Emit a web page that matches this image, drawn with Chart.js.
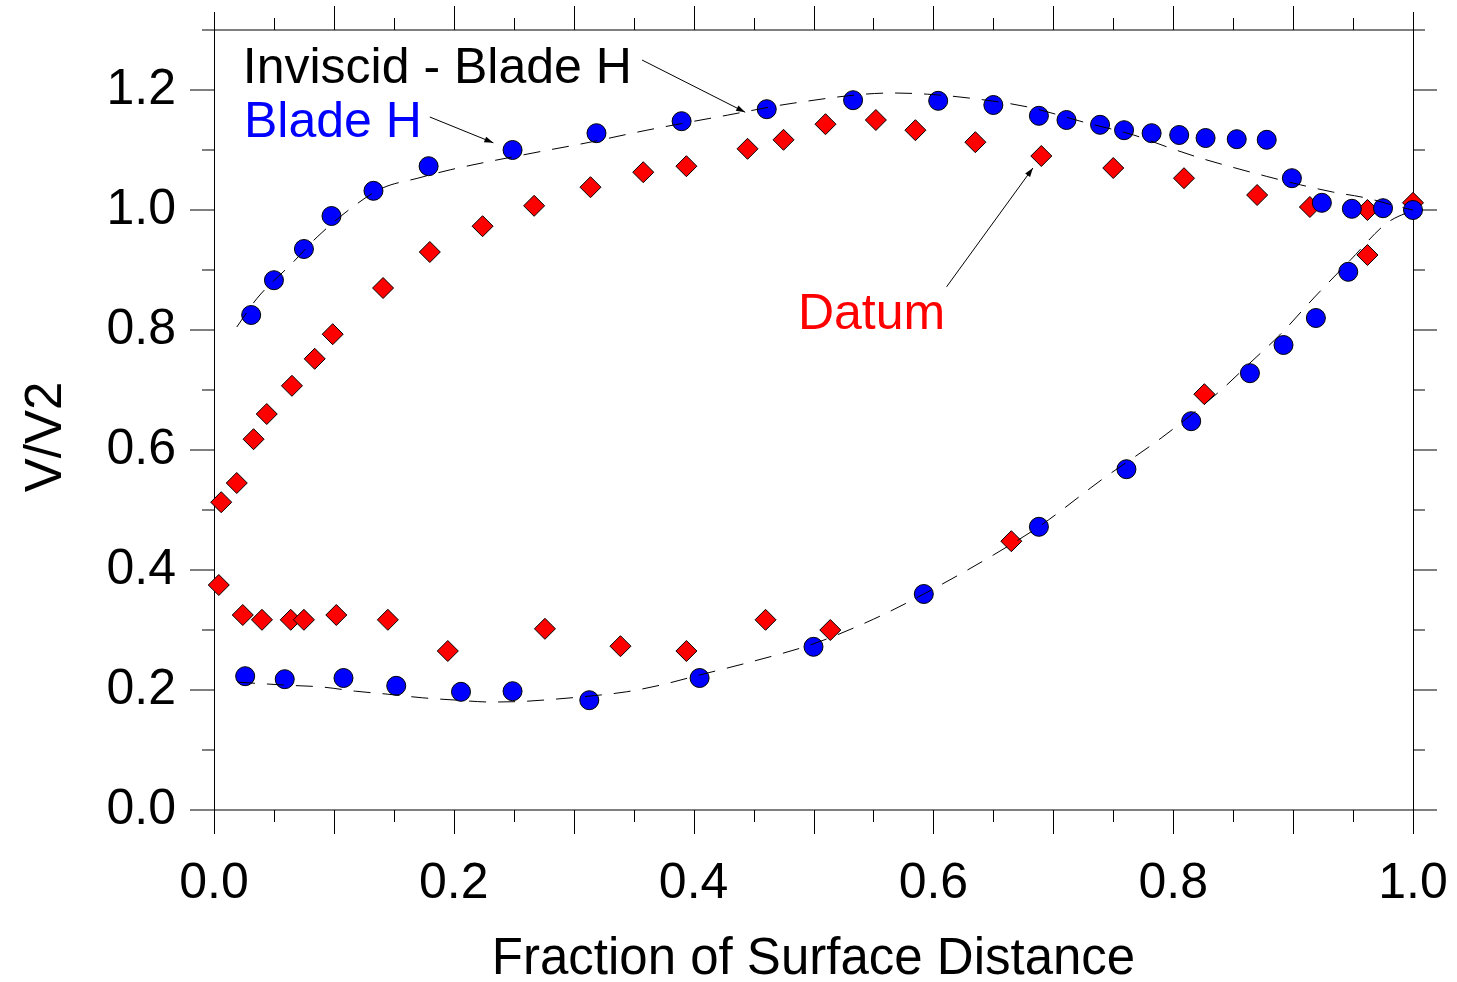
<!DOCTYPE html>
<html>
<head>
<meta charset="utf-8">
<title>V/V2 vs surface distance</title>
<script src="https://cdn.jsdelivr.net/npm/chart.js@4.4.1/dist/chart.umd.min.js"></script>
<style>
  html, body { margin: 0; padding: 0; background: #fff; }
  #wrap { width: 1457px; height: 982px; }
</style>
</head>
<body>
<div id="wrap"><canvas id="velChart" width="1457" height="982"></canvas></div>
<script>
// Blade H measurements, suction side
const bladeSsX = [0.031, 0.050, 0.075, 0.098, 0.133, 0.179, 0.249, 0.319, 0.390, 0.461, 0.533, 0.604, 0.650, 0.688,
                  0.711, 0.739, 0.759, 0.782, 0.805, 0.827, 0.853, 0.878, 0.899, 0.924, 0.949, 0.975, 1.000];
const bladeSsY = [0.825, 0.883, 0.935, 0.990, 1.032, 1.073, 1.100, 1.128, 1.148, 1.168, 1.183, 1.182, 1.175, 1.157,
                  1.150, 1.142, 1.133, 1.128, 1.125, 1.120, 1.118, 1.117, 1.053, 1.012, 1.002, 1.003, 1.000];
// Blade H measurements, pressure side
const bladePsX = [0.026, 0.059, 0.108, 0.152, 0.206, 0.249, 0.313, 0.405, 0.500, 0.592, 0.688, 0.761, 0.815, 0.864,
                  0.892, 0.919, 0.946];
const bladePsY = [0.223, 0.218, 0.220, 0.207, 0.197, 0.198, 0.183, 0.220, 0.272, 0.360, 0.472, 0.568, 0.648, 0.728,
                  0.775, 0.820, 0.897];

// Datum blade, suction side
const datumSsX = [0.006, 0.019, 0.033, 0.044, 0.065, 0.084, 0.099, 0.141, 0.180, 0.224, 0.267, 0.314, 0.358, 0.394,
                  0.445, 0.475, 0.510, 0.552, 0.585, 0.635, 0.690, 0.750, 0.809, 0.870, 0.914, 0.962, 1.000];
const datumSsY = [0.513, 0.545, 0.618, 0.660, 0.707, 0.752, 0.793, 0.870, 0.930, 0.973, 1.007, 1.038, 1.063, 1.073,
                  1.102, 1.117, 1.143, 1.150, 1.133, 1.113, 1.090, 1.070, 1.053, 1.025, 1.005, 1.000, 1.012];
// Datum blade, pressure side
const datumPsX = [0.004, 0.024, 0.040, 0.064, 0.075, 0.102, 0.145, 0.195, 0.276, 0.339, 0.394, 0.460, 0.514, 0.665,
                  0.826, 0.962];
const datumPsY = [0.375, 0.325, 0.317, 0.317, 0.317, 0.325, 0.317, 0.265, 0.302, 0.273, 0.265, 0.317, 0.300, 0.448,
                  0.693, 0.925];

// Inviscid prediction for Blade H (dashed curves)
const invSsX = [0.019, 0.036, 0.066, 0.086, 0.119, 0.141, 0.170, 0.197, 0.266, 0.311, 0.361, 0.428, 0.483, 0.566,
                0.595, 0.628, 0.678, 0.728, 0.767, 0.795, 0.822, 0.850, 0.878, 0.906, 0.933, 0.961, 0.989, 1.000];
const invSsY = [0.805, 0.853, 0.913, 0.955, 1.010, 1.037, 1.053, 1.067, 1.095, 1.112, 1.133, 1.158, 1.178, 1.195,
                1.193, 1.187, 1.172, 1.145, 1.125, 1.105, 1.087, 1.071, 1.056, 1.042, 1.030, 1.020, 1.005, 1.000];
const invPsX = [0.020, 0.061, 0.090, 0.118, 0.145, 0.174, 0.203, 0.230, 0.258, 0.286, 0.314, 0.344, 0.372, 0.405,
                0.450, 0.500, 0.550, 0.592, 0.650, 0.690, 0.740, 0.790, 0.840, 0.864, 0.889, 0.918, 0.948, 0.978, 1.000];
const invPsY = [0.213, 0.208, 0.205, 0.198, 0.193, 0.187, 0.183, 0.180, 0.181, 0.185, 0.190, 0.197, 0.208, 0.225,
                0.248, 0.277, 0.318, 0.360, 0.425, 0.475, 0.550, 0.620, 0.700, 0.745, 0.792, 0.855, 0.917, 0.978, 1.000];

// axis ticks
const xTickStep = 0.2;
const yTickStep = 0.2;
const xMax = 1.0;
const yMax = 1.3;

// callouts (text anchor = left/baseline, in data units)
const noteText  = ['Inviscid - Blade H', 'Blade H', 'Datum'];
const noteColor = ['#000000', '#0000ff', '#ff0000'];
const noteAt    = [[0.024, 1.212], [0.025, 1.122], [0.487, 0.802]];
const arrowFrom = [[0.357, 1.250], [0.180, 1.155], [0.611, 0.872]];
const arrowTo   = [[0.443, 1.163], [0.233, 1.112], [0.683, 1.070]];

const FONT = "'Liberation Sans', Arial, Helvetica, sans-serif";

const pts = (xs, ys) => xs.map((x, i) => ({ x: x, y: ys[i] }));

function hLine(ctx, x1, x2, y) { ctx.beginPath(); ctx.moveTo(x1, y); ctx.lineTo(x2, y); ctx.stroke(); }
function vLine(ctx, x, y1, y2) { ctx.beginPath(); ctx.moveTo(x + 0.5, y1); ctx.lineTo(x + 0.5, y2); ctx.stroke(); }

// box frame with ticks on all four sides
const framePlugin = {
  id: 'frame',
  beforeDatasetsDraw(chart) {
    const ctx = chart.ctx;
    const { left, right, top, bottom } = chart.chartArea;
    const xs = chart.scales.x, ys = chart.scales.y;
    ctx.save();
    ctx.strokeStyle = '#000';
    ctx.lineWidth = 1;
    hLine(ctx, left, right, top);
    hLine(ctx, left, right, bottom);
    vLine(ctx, Math.round(left), top - 18, bottom + 24);
    vLine(ctx, Math.round(right), top - 18, bottom + 24);
    for (let i = 0; i <= 20; i++) {
      const px = Math.round(xs.getPixelForValue(i * 0.05));
      const len = i % 2 === 0 ? 24 : 12;
      vLine(ctx, px, bottom, bottom + len);
      if (i > 0 && i < 20) vLine(ctx, px, top - len, top);
    }
    for (let i = 0; i <= 13; i++) {
      const py = Math.round(ys.getPixelForValue(i * 0.1));
      const len = i % 2 === 0 ? 24 : 12;
      hLine(ctx, left - len, left, py);
      hLine(ctx, right, right + len, py);
    }
    // y axis title, drawn by hand so it can sit a little low like the original
    ctx.fillStyle = '#000';
    ctx.font = '51px ' + FONT;
    ctx.textAlign = 'center';
    ctx.textBaseline = 'alphabetic';
    ctx.translate(61, (top + bottom) / 2 + 17);
    ctx.rotate(-Math.PI / 2);
    ctx.fillText('V/V2', 0, 0);
    ctx.restore();
  },
  afterDatasetsDraw(chart) {
    const ctx = chart.ctx;
    const xs = chart.scales.x, ys = chart.scales.y;
    ctx.save();
    ctx.font = '50px ' + FONT;
    ctx.textAlign = 'left';
    ctx.textBaseline = 'alphabetic';
    noteText.forEach((t, i) => {
      ctx.fillStyle = noteColor[i];
      ctx.fillText(t, xs.getPixelForValue(noteAt[i][0]), ys.getPixelForValue(noteAt[i][1]));
    });
    ctx.strokeStyle = '#000';
    ctx.fillStyle = '#000';
    ctx.lineWidth = 1;
    arrowFrom.forEach((a, i) => {
      const x1 = xs.getPixelForValue(a[0]), y1 = ys.getPixelForValue(a[1]);
      const x2 = xs.getPixelForValue(arrowTo[i][0]), y2 = ys.getPixelForValue(arrowTo[i][1]);
      ctx.beginPath(); ctx.moveTo(x1, y1); ctx.lineTo(x2, y2); ctx.stroke();
      const ang = Math.atan2(y2 - y1, x2 - x1);
      const hl = 9, hw = 3;
      ctx.beginPath();
      ctx.moveTo(x2, y2);
      ctx.lineTo(x2 - hl * Math.cos(ang) + hw * Math.sin(ang), y2 - hl * Math.sin(ang) - hw * Math.cos(ang));
      ctx.lineTo(x2 - hl * Math.cos(ang) - hw * Math.sin(ang), y2 - hl * Math.sin(ang) + hw * Math.cos(ang));
      ctx.closePath();
      ctx.fill();
    });
    ctx.restore();
  }
};

const dashed = {
  showLine: true, borderColor: '#000', borderWidth: 1, borderDash: [17, 12],
  pointRadius: 0, cubicInterpolationMode: 'monotone', clip: false
};
const circles = {
  showLine: false, pointStyle: 'circle', pointRadius: 9.5, backgroundColor: '#0000ff',
  borderColor: '#000', borderWidth: 1, clip: false
};
const diamonds = {
  showLine: false, pointStyle: 'rectRot', pointRadius: 10.5, backgroundColor: '#ff0000',
  borderColor: '#000', borderWidth: 1, clip: false
};

new Chart(document.getElementById('velChart'), {
  type: 'scatter',
  data: {
    datasets: [
      Object.assign({ label: 'Inviscid - Blade H', data: pts(invSsX, invSsY) }, dashed),
      Object.assign({ label: 'Inviscid - Blade H (PS)', data: pts(invPsX, invPsY) }, dashed),
      Object.assign({ label: 'Blade H', data: pts(bladeSsX, bladeSsY) }, circles),
      Object.assign({ label: 'Blade H (PS)', data: pts(bladePsX, bladePsY) }, circles),
      Object.assign({ label: 'Datum', data: pts(datumSsX, datumSsY) }, diamonds),
      Object.assign({ label: 'Datum (PS)', data: pts(datumPsX, datumPsY) }, diamonds)
    ]
  },
  options: {
    responsive: false,
    animation: false,
    events: [],
    layout: { padding: { top: 30, right: 44, left: 0, bottom: 0 } },
    plugins: { legend: { display: false }, tooltip: { enabled: false } },
    scales: {
      x: {
        type: 'linear', min: 0, max: xMax,
        grid: { display: false, drawTicks: false },
        border: { display: false },
        ticks: {
          stepSize: xTickStep, includeBounds: false, autoSkip: false, maxRotation: 0,
          padding: 44, color: '#000', font: { family: FONT, size: 50 },
          callback: v => Number(v).toFixed(1)
        },
        title: {
          display: true, text: 'Fraction of Surface Distance', color: '#000',
          font: { family: FONT, size: 51, lineHeight: 1 }, padding: { top: 0, bottom: -3 }
        },
        // fixed axis band; labels may overhang into the page margin
        afterFit: s => { s.height = 172; s.paddingLeft = 0; s.paddingRight = 0; }
      },
      y: {
        type: 'linear', min: 0, max: yMax,
        grid: { display: false, drawTicks: false },
        border: { display: false },
        ticks: {
          stepSize: yTickStep, includeBounds: false, autoSkip: false,
          padding: 38, color: '#000', font: { family: FONT, size: 50 },
          callback: v => Number(v).toFixed(1)
        },
        afterFit: s => { s.width = 214; s.paddingTop = 0; s.paddingBottom = 0; }
      }
    }
  },
  plugins: [framePlugin]
});
</script>
</body>
</html>
